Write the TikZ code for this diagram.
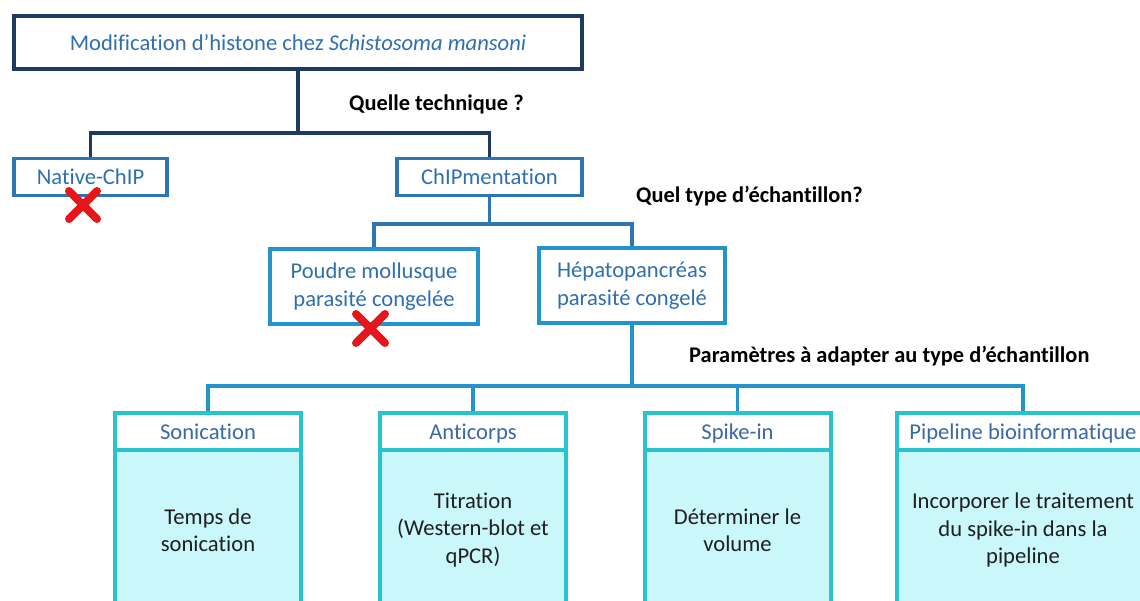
\documentclass[tikz,border=0pt]{standalone}
\usepackage{fontspec}
\setmainfont{Carlito}[Ligatures=NoCommon]
\usetikzlibrary{positioning}
\definecolor{navy}{HTML}{1F3A60}
\definecolor{midblue}{HTML}{2E75B6}
\definecolor{skyblue}{HTML}{2393CD}
\definecolor{teal}{HTML}{29C3CF}
\definecolor{cyanfill}{HTML}{C9F7FA}
\definecolor{txtblue}{HTML}{2F6FB0}
\definecolor{hdrblue}{HTML}{3A69A6}
\definecolor{crossred}{HTML}{E8151B}
\begin{document}
\begin{tikzpicture}[x=1pt,y=-1pt,
  every node/.style={inner sep=0pt, align=center},
  boxtxt/.style={font=\fontsize{22.6}{27.5}\selectfont, text=txtblue},
  oneline/.style={text height=17.5pt, text depth=2.5pt},
  question/.style={font=\fontsize{22.4}{27}\selectfont\bfseries, anchor=west},
  hdrbox/.style={draw=teal, fill=white, line width=4pt, minimum width=186pt, minimum height=37pt,
    font=\fontsize{22.6}{27.5}\selectfont, text=hdrblue, oneline},
  bodybox/.style={draw=teal, fill=cyanfill, line width=4pt, minimum width=186pt, minimum height=160pt,
    font=\fontsize{22.6}{27.5}\selectfont, text=black!88},
  cross/.style={draw=crossred, line width=8pt, line cap=round}]
\useasboundingbox (0,0) rectangle (1140,601);
\clip (0,0) rectangle (1140,601);

% top of the tree
\node[boxtxt, oneline, draw=navy, line width=4pt, minimum width=568pt, minimum height=53pt] (histone) at (298,43)
  {Modification d’histone chez \textit{Schistosoma mansoni}};
\node[question] (qtech) at (349,104) {Quelle technique ?};
\node[boxtxt, oneline, draw=midblue, line width=3.5pt, minimum width=153pt, minimum height=37pt] (native) at (90.5,177) {Native-ChIP};
\node[boxtxt, oneline, draw=midblue, line width=3.5pt, minimum width=185pt, minimum height=37pt] (chipm) at (489.5,177) {ChIPmentation};
\coordinate (j1) at (298,133);
\draw[navy, line width=3.5pt] (histone.south) -- (j1);
\draw[navy, line width=3.5pt] (native.north) |- (j1) -| (chipm.north);

% sample type
\node[question] (qtype) at (636,196) {Quel type d’échantillon?};
\node[boxtxt, draw=skyblue, line width=4pt, minimum width=208pt, minimum height=75pt] (poudre) at (374,286.5)
  {Poudre mollusque\\parasité congelée};
\node[boxtxt, draw=skyblue, line width=4pt, minimum width=186pt, minimum height=75pt] (hepato) at (632,285.5)
  {Hépatopancréas\\parasité congelé};
\coordinate (j2) at (489.5,224);
\draw[midblue, line width=3.5pt] (chipm.south) -- (j2);
\draw[midblue, line width=3.5pt] (poudre.north) |- (j2) -| (hepato.north);

% parameters
\node[question] (qparam) at (689,356) {Paramètres à adapter au type d’échantillon};
\node[hdrbox] (sonic) at (208,431.5) {Sonication};
\node[bodybox, below=-4pt of sonic] (sonicb) {Temps de\\sonication};
\node[hdrbox] (anti) at (473,431.5) {Anticorps};
\node[bodybox, below=-4pt of anti] (antib) {Titration\\(Western-blot et\\qPCR)};
\node[hdrbox] (spike) at (737.5,431.5) {Spike-in};
\node[bodybox, below=-4pt of spike] (spikeb) {Déterminer le\\volume};
\node[hdrbox, minimum width=252pt] (pipe) at (1023,431.5) {Pipeline bioinformatique};
\node[bodybox, minimum width=252pt, below=-4pt of pipe] (pipeb) {Incorporer le traitement\\du spike-in dans la\\pipeline};
\coordinate (j3) at (632,386);
\draw[skyblue, line width=3.5pt] (hepato.south) -- (j3);
\draw[skyblue, line width=3.5pt] (sonic.north) |- (j3) -| (pipe.north);
\draw[skyblue, line width=3.5pt] (anti.north) |- (j3);
\draw[skyblue, line width=3.5pt] (spike.north) |- (j3);

% rejected choices
\draw[cross] (69,191) -- (97,219) (97,191) -- (69,219);
\draw[cross] (356,314) -- (385,343) (385,314) -- (356,343);
\end{tikzpicture}
\end{document}
